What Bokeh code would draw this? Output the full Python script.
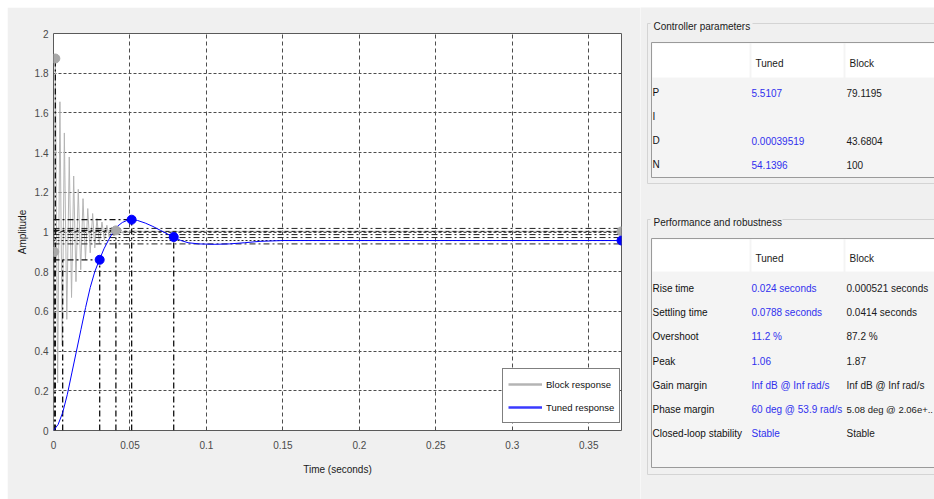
from bokeh.plotting import figure
from bokeh.models import Range1d, Legend, LegendItem, FixedTicker, Spacer
from bokeh.layouts import row, column
from bokeh.embed import file_html
from bokeh.resources import INLINE
from bokeh.core.properties import value

FONT = "Liberation Sans"

# ---------------- data ----------------
tuned_t = [0, 0.003, 0.006, 0.009, 0.012, 0.015, 0.018, 0.021, 0.024, 0.027,
           0.030, 0.033, 0.036, 0.039, 0.042, 0.045, 0.048, 0.051, 0.055, 0.060,
           0.065, 0.070, 0.075, 0.0788, 0.083, 0.088, 0.095, 0.105, 0.115, 0.125,
           0.135, 0.150, 0.3714]
tuned_y = [0, 0.03, 0.09, 0.18, 0.29, 0.40, 0.51, 0.62, 0.72, 0.80,
           0.86, 0.915, 0.96, 1.0, 1.03, 1.048, 1.058, 1.062, 1.058, 1.045,
           1.028, 1.008, 0.988, 0.975, 0.958, 0.946, 0.940, 0.938, 0.940, 0.946,
           0.953, 0.957, 0.957]

block_t = [0, 0.0003, 0.000521, 0.0012, 0.0027, 0.0042, 0.0057, 0.0071, 0.0087, 0.0103,
           0.0118, 0.0132, 0.0147, 0.0162, 0.0178, 0.0193, 0.0209, 0.0224, 0.0240, 0.0256,
           0.0270, 0.0284, 0.0300, 0.0317, 0.0333, 0.0349, 0.0365, 0.0380, 0.0395, 0.0410,
           0.0425, 0.0440, 0.0455, 0.0470, 0.0485, 0.0500, 0.0550, 0.0600, 0.3714]
block_y = [0, 0.45, 0.90, 1.874, 0.24, 1.656, 0.43, 1.499, 0.56, 1.378,
           0.67, 1.282, 0.75, 1.215, 0.81, 1.168, 0.86, 1.118, 0.895, 1.093,
           0.92, 1.068, 0.942, 1.050, 0.96, 1.034, 0.972, 1.025, 0.98, 1.02,
           0.988, 1.014, 0.993, 1.010, 0.997, 1.006, 1.004, 1.003, 1.003]

# characteristic points: rise, peak, settling, steady state
tuned_char_t = [0.0302, 0.0511, 0.0786, 0.3714]
tuned_char_y = [0.86, 1.062, 0.975, 0.957]
block_char_t = [0.000521, 0.0012, 0.0408, 0.3714]
block_char_y = [0.90, 1.874, 1.008, 1.003]
tuned_rise_start_t = [0.006]
band_levels = [1.018, 1.003, 0.987, 0.972, 0.957, 0.940]
band_dash = ["6 3 2 3", "4 3", "6 3 2 3", "6 3 2 3", "2 2", "6 3 2 3"]

x_ticks = [0, 0.05, 0.1, 0.15, 0.2, 0.25, 0.3, 0.35]
x_tick_labels = ["0", "0.05", "0.1", "0.15", "0.2", "0.25", "0.3", "0.35"]
y_ticks = [0, 0.2, 0.4, 0.6, 0.8, 1.0, 1.2, 1.4, 1.6, 1.8, 2.0]
y_tick_labels = ["0", "0.2", "0.4", "0.6", "0.8", "1", "1.2", "1.4", "1.6", "1.8", "2"]
x_max = 0.3714

ctrl_rows = ["P", "I", "D", "N"]
ctrl_tuned = ["5.5107", "", "0.00039519", "54.1396"]
ctrl_block = ["79.1195", "", "43.6804", "100"]
perf_rows = ["Rise time", "Settling time", "Overshoot", "Peak", "Gain margin",
             "Phase margin", "Closed-loop stability"]
perf_tuned = ["0.024 seconds", "0.0788 seconds", "11.2 %", "1.06",
              "Inf dB @ Inf rad/s", "60 deg @ 53.9 rad/s", "Stable"]
perf_block = ["0.000521 seconds", "0.0414 seconds", "87.2 %", "1.87",
              "Inf dB @ Inf rad/s", "5.08 deg @ 2.06e+..", "Stable"]

GREY = "#b4b4b4"
BLUE = "#0000ff"
PANEL = "#f0f0f0"
NAN = float("nan")

# ---------------- response plot ----------------
p = figure(width=633, height=492, x_range=Range1d(0, x_max), y_range=Range1d(0, 2),
           output_backend="svg", toolbar_location=None,
           min_border_left=46, min_border_right=19, min_border_top=26, min_border_bottom=69,
           background_fill_color="white", border_fill_color=PANEL,
           outline_line_color="#5a5a5a", outline_line_width=1)
p.frame_align = False

p.xaxis.ticker = FixedTicker(ticks=x_ticks)
p.yaxis.ticker = FixedTicker(ticks=y_ticks)
p.xaxis.major_label_overrides = {t: l for t, l in zip(x_ticks, x_tick_labels)}
p.yaxis.major_label_overrides = {t: l for t, l in zip(y_ticks, y_tick_labels)}
for ax in (p.xaxis, p.yaxis):
    ax.axis_line_color = None
    ax.major_tick_line_color = None
    ax.minor_tick_line_color = None
    ax.major_tick_out = 0
    ax.major_tick_in = 0
    ax.minor_tick_out = 0
    ax.minor_tick_in = 0
    ax.major_label_text_font = FONT
    ax.major_label_text_font_size = "10px"
    ax.major_label_text_color = "#4a4a4a"
    ax.axis_label_text_font = FONT
    ax.axis_label_text_font_size = "10px"
    ax.axis_label_text_font_style = "normal"
    ax.axis_label_text_color = "#1a1a1a"
p.xaxis.axis_label = "Time (seconds)"
p.yaxis.axis_label = "Amplitude"
p.xaxis.major_label_standoff = 10
p.xaxis.axis_label_standoff = 12
p.yaxis.major_label_standoff = 5
p.yaxis.axis_label_standoff = 4

p.xgrid.ticker = FixedTicker(ticks=x_ticks)
p.ygrid.ticker = FixedTicker(ticks=y_ticks)
p.xgrid.grid_line_color = "#4d4d4d"
p.xgrid.grid_line_dash = "4 3"
p.ygrid.grid_line_color = "#4d4d4d"
p.ygrid.grid_line_dash = "3 2"

# block response
p.line(block_t, block_y, line_color=GREY, line_width=1)

# characteristic guide lines
DD = "6 3 2 3"
for lvl, dsh in zip(band_levels, band_dash):
    p.line([0, x_max], [lvl, lvl], line_color="#222222", line_width=1, line_dash=dsh)
vx = tuned_char_t[:3] + block_char_t[:3]
vy = tuned_char_y[:3] + block_char_y[:3]
p.segment(x0=vx, y0=[0] * len(vx), x1=vx, y1=vy, line_color="#111111",
          line_width=1.3, line_dash=DD)
hx = [tuned_char_t[0], tuned_char_t[1], block_char_t[2]]
hy = [tuned_char_y[0], tuned_char_y[1], block_char_y[2]]
p.segment(x0=[0] * len(hx), y0=hy, x1=hx, y1=hy, line_color="#111111",
          line_width=1.3, line_dash=DD)
p.segment(x0=tuned_rise_start_t, y0=[0], x1=tuned_rise_start_t, y1=[tuned_char_y[0]],
          line_color="#111111", line_width=1.3, line_dash=DD)

# tuned response
p.line(tuned_t, tuned_y, line_color=BLUE, line_width=1)

# markers
p.scatter(block_char_t, block_char_y, size=9, fill_color="#a8a8a8", line_color="#a8a8a8")
p.scatter(tuned_char_t, tuned_char_y, size=9, fill_color=BLUE, line_color=BLUE)

# legend (proxy renderers with thicker lines, nothing drawn in the plot)
lg_b = p.line([NAN], [NAN], line_color=GREY, line_width=2.5)
lg_t = p.line([NAN], [NAN], line_color="#3a3aff", line_width=2.5)
legend = Legend(items=[LegendItem(label="Block response", renderers=[lg_b]),
                       LegendItem(label="Tuned response", renderers=[lg_t])],
                location=(449, 7), margin=0, padding=5, spacing=3,
                glyph_width=34, glyph_height=20, label_height=20, label_standoff=4,
                label_text_font=FONT, label_text_font_size="9.5px",
                label_text_color="#111111",
                border_line_color="#000000", border_line_width=1,
                background_fill_color="white", background_fill_alpha=1)
p.add_layout(legend)

# ---------------- right-hand panel ----------------
r = figure(width=294, height=492, x_range=Range1d(640, 934), y_range=Range1d(499, 7),
           output_backend="svg", toolbar_location=None, min_border=0,
           x_axis_location=None, y_axis_location=None,
           background_fill_color=PANEL, border_fill_color=PANEL, outline_line_color=None)
r.frame_align = False
r.grid.visible = False

TXT = "10px"


def group(title, box_top, box_bottom, tab_top, tab_bottom, head_bottom, title_w,
          rows, tuned, block, block_sizes, row0, dy):
    r.quad(left=[647], right=[950], top=[box_top], bottom=[box_bottom],
           fill_color=None, line_color="#d4d4d4", line_width=1)
    r.quad(left=[650], right=[652 + title_w], top=[box_top - 6], bottom=[box_top + 6],
           fill_color=PANEL, line_color=None)
    r.text(x=[653], y=[box_top + 3], text=[title], text_font=value(FONT),
           text_font_size=TXT, text_baseline="middle", text_color="#1a1a1a")
    r.quad(left=[651], right=[950], top=[tab_top], bottom=[tab_bottom],
           fill_color="#f4f4f4", line_color="#9a9a9a", line_width=1)
    r.quad(left=[652, 751, 845], right=[749, 843, 950], top=[tab_top + 1] * 3,
           bottom=[head_bottom] * 3, fill_color="white", line_color=None)
    hy = (tab_top + head_bottom) / 2 + 3.5
    r.text(x=[755, 849], y=[hy, hy], text=["Tuned", "Block"], text_font=value(FONT),
           text_font_size=TXT, text_baseline="middle", text_color="#1a1a1a")
    ys = [row0 + i * dy for i in range(len(rows))]
    r.text(x=[652] * len(rows), y=ys, text=rows, text_font=value(FONT),
           text_font_size=TXT, text_baseline="middle", text_color="#111111")
    r.text(x=[751] * len(rows), y=ys, text=tuned, text_font=value(FONT),
           text_font_size=TXT, text_baseline="middle", text_color="#3030ee")
    r.text(x=[846] * len(rows), y=ys, text=block, text_font=value(FONT),
           text_font_size=block_sizes, text_baseline="middle", text_color="#1a1a1a")


group("Controller parameters", 23, 183, 42, 177, 77, 100,
      ctrl_rows, ctrl_tuned, ctrl_block, [TXT] * 4, 92, 24)
group("Performance and robustness", 219, 474, 238, 467, 271, 130,
      perf_rows, perf_tuned, perf_block,
      [TXT] * 5 + ["9.5px", TXT], 288, 24.2)

layout = column(Spacer(width=934, height=7),
                row(Spacer(width=7, height=492), p, r))

open("out.html", "w").write(file_html(layout, INLINE))
